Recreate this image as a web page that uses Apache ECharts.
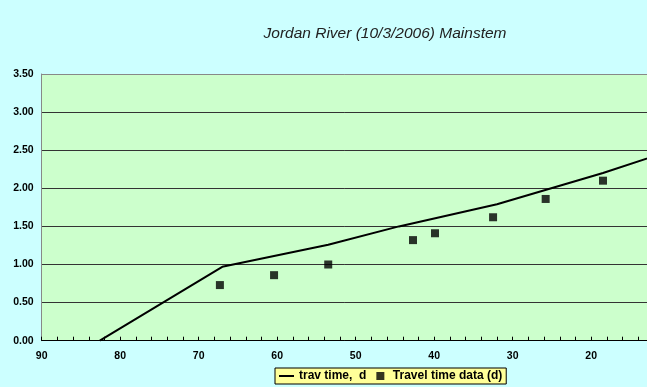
<!DOCTYPE html>
<html>
<head>
<meta charset="utf-8">
<script src="https://cdn.jsdelivr.net/npm/echarts@6/dist/echarts.min.js"></script>
<style>
html,body{margin:0;padding:0;background:#CCFFFF;}
#c{width:647px;height:387px;}
</style>
</head>
<body>
<div id="c"></div>
<script>
// Data
var titleText = 'Jordan River (10/3/2006) Mainstem';
var lineName = 'trav time,  d';
var pointName = 'Travel time data (d)';
var travX = [82.6, 67.0, 53.5, 44.5, 32.0, 18.5, 10];
var travV = [0, 0.97, 1.26, 1.50, 1.79, 2.20, 2.49];
var dataX = [67.3, 60.4, 53.5, 42.7, 39.9, 32.5, 25.8, 18.5];
var dataV = [0.73, 0.86, 1.00, 1.32, 1.41, 1.62, 1.86, 2.10];

function pairs(xs, ys){ return xs.map(function(x,i){ return [x, ys[i]]; }); }

var chart = echarts.init(document.getElementById('c'), null, {renderer:'canvas'});
var font = 'Arial, "Liberation Sans", sans-serif';
chart.setOption({
  backgroundColor: '#CCFFFF',
  animation: false,
  title: {
    text: titleText,
    left: 385, top: 26, padding: 0,
    textAlign: 'center',
    textStyle: {fontFamily: font, fontStyle: 'italic', fontWeight: 'normal', fontSize: 15.5, color: '#222'}
  },
  legend: {
    data: [{name: lineName, icon: 'path://M0,0H15V2H0Z'}, {name: pointName, icon: 'path://M0,0H10V10H0Z'}],
    left: 275, top: 368,
    padding: [2, 4],
    itemGap: 10,
    itemWidth: 15, itemHeight: 8,
    backgroundColor: '#FFFF99',
    borderColor: '#000', borderWidth: 1, borderRadius: 0,
    textStyle: {fontFamily: font, fontWeight: 'bold', fontSize: 12, color: '#000'}
  },
  grid: {
    left: 41.7, width: 628, top: 74, bottom: 46.3,
    outerBoundsMode: 'none', containLabel: false,
    show: true, backgroundColor: '#CCFFCC', borderWidth: 0
  },
  xAxis: {
    type: 'value', inverse: true, min: 10, max: 90, interval: 10,
    axisLine: {show: true, onZero: false, lineStyle: {color: '#000', width: 1}},
    axisTick: {show: true, inside: true, length: 4, lineStyle: {color: '#000'}},
    minorTick: {show: true, splitNumber: 5, length: 4, lineStyle: {color: '#000'}},
    splitLine: {show: false},
    axisLabel: {margin: 10, fontFamily: font, fontWeight: 'bold', fontSize: 10.5, color: '#000'}
  },
  yAxis: {
    type: 'value', min: 0, max: 3.5, interval: 0.5,
    axisLine: {show: true, lineStyle: {color: '#888', width: 1}},
    axisTick: {show: false},
    splitLine: {show: true, lineStyle: {color: ['#333','#333','#333','#333','#333','#333','#333','#888'], width: 1}},
    axisLabel: {margin: 8, fontFamily: font, fontWeight: 'bold', fontSize: 10.5, color: '#000',
      formatter: function(v){ return v.toFixed(2); }}
  },
  series: [
    {
      name: lineName, type: 'line', data: pairs(travX, travV),
      showSymbol: false, symbol: 'none',
      lineStyle: {color: '#000', width: 2},
      itemStyle: {color: '#000'},
      z: 2
    },
    {
      name: pointName, type: 'scatter', data: pairs(dataX, dataV),
      symbol: 'rect', symbolSize: 8,
      itemStyle: {color: '#000'},
      z: 3
    }
  ]
});
</script>
</body>
</html>
